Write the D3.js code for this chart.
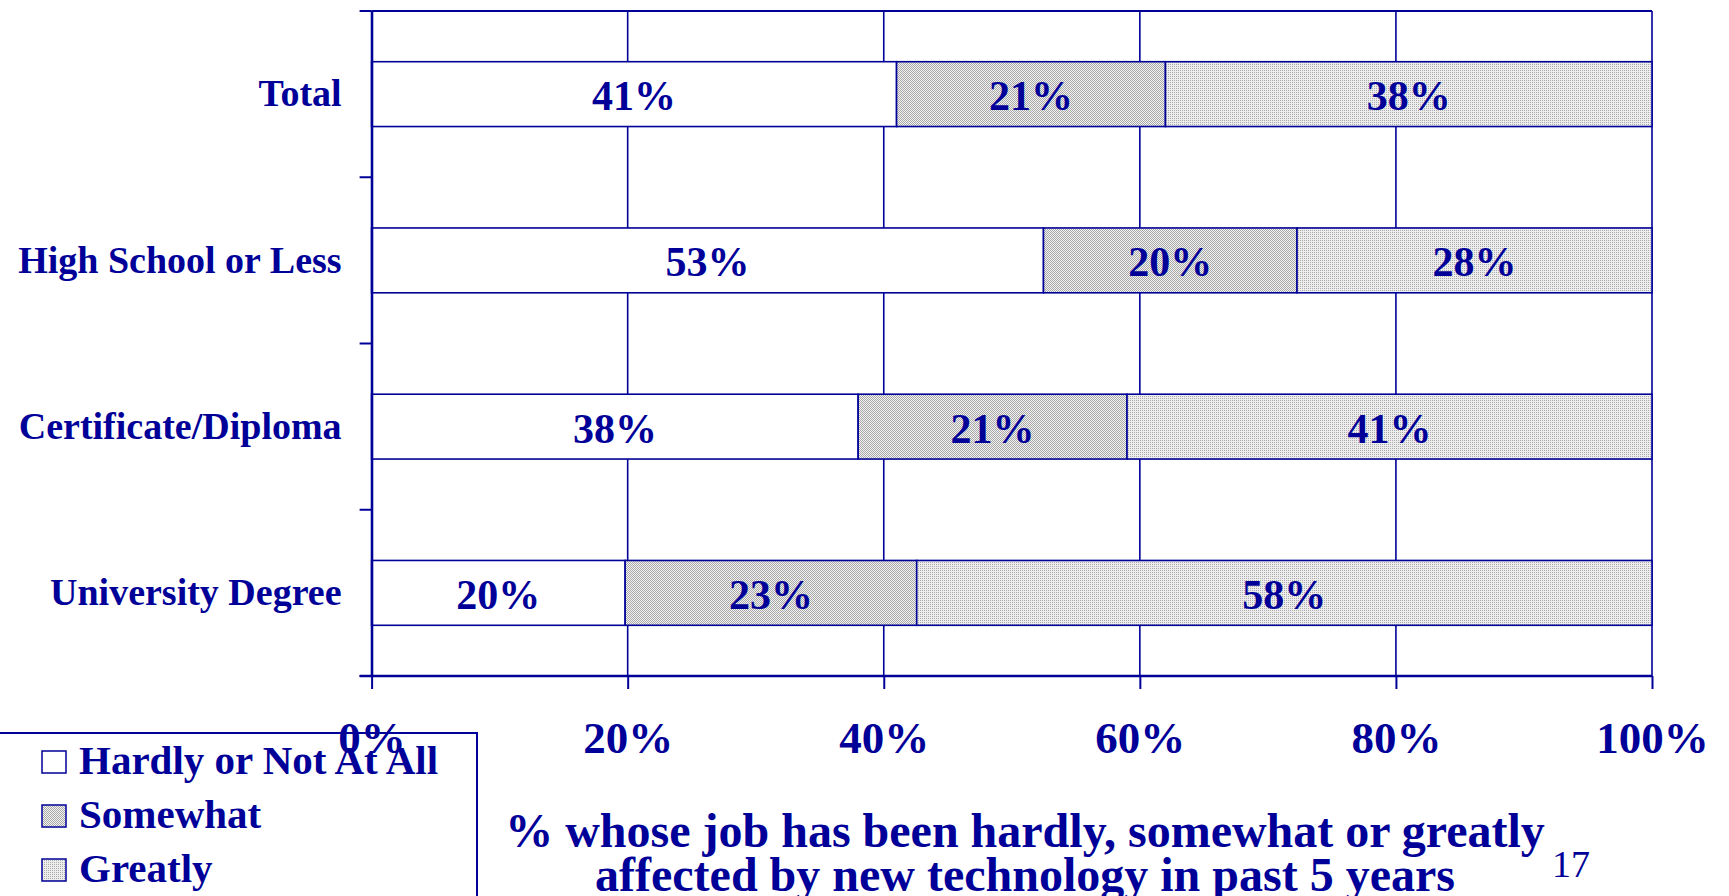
<!DOCTYPE html>
<html>
<head>
<meta charset="utf-8">
<script src="https://cdn.jsdelivr.net/npm/d3@7"></script>
<style>
  html, body { margin: 0; padding: 0; background: #ffffff; }
  svg { display: block; }
  text { font-family: "Liberation Serif", "Times New Roman", serif; fill: #000099; }
</style>
</head>
<body>
<svg id="chart" width="1729" height="896"></svg>
<script>
// Survey answers by education level (percent of respondents)
const categories = ["Total", "High School or Less", "Certificate/Diploma", "University Degree"];
const seriesNames = ["Hardly or Not At All", "Somewhat", "Greatly"];
const hardly   = [41, 53, 38, 20];
const somewhat = [21, 20, 21, 23];
const greatly  = [38, 28, 41, 58];
const xTickValues = [0, 0.2, 0.4, 0.6, 0.8, 1];
const titleLines = ["% whose job has been hardly, somewhat or greatly",
                    "affected by new technology in past 5 years"];
const pageNumber = "17";

const ink = "#000099";
const svg = d3.select("#chart");

// Fill textures for the three answer groups
const defs = svg.append("defs");
const pSome = defs.append("pattern").attr("id", "pat-somewhat")
  .attr("patternUnits", "userSpaceOnUse").attr("width", 2).attr("height", 2);
pSome.append("rect").attr("width", 2).attr("height", 2).attr("fill", "#f2f2f2");
pSome.append("rect").attr("x", 0).attr("y", 0).attr("width", 1).attr("height", 1).attr("fill", "#a8a8a8");
pSome.append("rect").attr("x", 1).attr("y", 1).attr("width", 1).attr("height", 1).attr("fill", "#a8a8a8");

const pGreat = defs.append("pattern").attr("id", "pat-greatly")
  .attr("patternUnits", "userSpaceOnUse").attr("width", 2).attr("height", 2);
pGreat.append("rect").attr("width", 2).attr("height", 2).attr("fill", "#ededed");
pGreat.append("rect").attr("x", 0).attr("y", 0).attr("width", 1).attr("height", 1).attr("fill", "#acacac");

const fills = ["#ffffff", "url(#pat-somewhat)", "url(#pat-greatly)"];

const plot = { left: 371.6, right: 1652, top: 11, bottom: 676 };

const x = d3.scaleLinear().domain([0, 1]).range([plot.left, plot.right]);
const y = d3.scaleBand().domain(categories)
  .range([plot.top, plot.bottom])
  .paddingInner(0.61).paddingOuter(0.305);

// Rows for the 100% stack; each row is normalised by its own total
const rows = categories.map((c, i) => ({
  category: c,
  [seriesNames[0]]: hardly[i],
  [seriesNames[1]]: somewhat[i],
  [seriesNames[2]]: greatly[i]
}));
const stacked = d3.stack().keys(seriesNames).offset(d3.stackOffsetExpand)(rows);

// Legend frame (drawn first so the axis labels sit over it)
const legend = svg.append("g");
legend.append("rect")
  .attr("x", -2).attr("y", 733).attr("width", 479).attr("height", 200)
  .attr("fill", "none").attr("stroke", ink).attr("stroke-width", 2);
seriesNames.forEach((name, i) => {
  const baseY = 774 + i * 54;
  legend.append("rect")
    .attr("x", 42).attr("y", baseY - 23).attr("width", 24).attr("height", 22)
    .attr("fill", fills[i]).attr("stroke", ink).attr("stroke-width", 1.5);
  legend.append("text")
    .attr("x", 79).attr("y", baseY)
    .attr("font-size", 41).attr("font-weight", "bold")
    .text(name);
});

// Vertical gridlines
svg.append("g").selectAll("line")
  .data(xTickValues)
  .join("line")
  .attr("x1", d => x(d)).attr("x2", d => x(d))
  .attr("y1", plot.top).attr("y2", plot.bottom)
  .attr("stroke", ink).attr("stroke-width", 1.6);

// Plot frame top edge
svg.append("line")
  .attr("x1", plot.left).attr("x2", plot.right)
  .attr("y1", plot.top).attr("y2", plot.top)
  .attr("stroke", ink).attr("stroke-width", 2);

// Stacked bars
const layers = svg.append("g").selectAll("g")
  .data(stacked)
  .join("g")
  .attr("fill", (d, i) => fills[i]);

layers.selectAll("rect")
  .data(d => d)
  .join("rect")
  .attr("x", d => x(d[0]))
  .attr("width", d => x(d[1]) - x(d[0]))
  .attr("y", d => y(d.data.category))
  .attr("height", y.bandwidth())
  .attr("stroke", ink).attr("stroke-width", 1.6);

// Value labels centred in each segment
stacked.forEach(layer => {
  svg.append("g").selectAll("text")
    .data(layer)
    .join("text")
    .attr("x", d => (x(d[0]) + x(d[1])) / 2)
    .attr("y", d => y(d.data.category) + y.bandwidth() / 2 + 16)
    .attr("text-anchor", "middle")
    .attr("font-size", 42).attr("font-weight", "bold")
    .text(d => d.data[layer.key] + "%");
});

// Category axis
const yAxis = svg.append("g")
  .attr("transform", `translate(${plot.left},0)`)
  .call(d3.axisLeft(y).tickSize(0).tickPadding(30));
yAxis.select(".domain").attr("stroke", ink).attr("stroke-width", 2.4);
yAxis.selectAll("text")
  .attr("font-size", 38).attr("font-weight", "bold")
  .attr("fill", ink).attr("font-family", null)
  .attr("dy", "0.32em");

// Tick marks on category boundaries
const boundaries = d3.range(categories.length + 1).map(i => plot.top + i * y.step());
svg.append("g").selectAll("line")
  .data(boundaries)
  .join("line")
  .attr("x1", plot.left - 12).attr("x2", plot.left)
  .attr("y1", d => d).attr("y2", d => d)
  .attr("stroke", ink).attr("stroke-width", 2);

// Percentage axis
const xAxis = svg.append("g")
  .attr("transform", `translate(0,${plot.bottom})`)
  .call(d3.axisBottom(x).tickValues(xTickValues).tickFormat(d3.format(".0%")).tickSize(13));
xAxis.select(".domain").attr("stroke", ink).attr("stroke-width", 2.6)
  .attr("d", `M${plot.left - 12},0H${plot.right}`);
xAxis.selectAll(".tick line").attr("stroke", ink).attr("stroke-width", 2);
xAxis.selectAll("text")
  .attr("y", 77).attr("dy", null)
  .attr("font-size", 45).attr("font-weight", "bold")
  .attr("fill", ink).attr("font-family", null);

// Axis title
svg.append("g").selectAll("text")
  .data(titleLines)
  .join("text")
  .attr("x", 1025)
  .attr("y", (d, i) => 847 + i * 44)
  .attr("text-anchor", "middle")
  .attr("font-size", 48).attr("font-weight", "bold")
  .text(d => d);

// Page number
svg.append("text")
  .attr("x", 1571).attr("y", 877)
  .attr("text-anchor", "middle")
  .attr("font-size", 38)
  .text(pageNumber);
</script>
</body>
</html>
